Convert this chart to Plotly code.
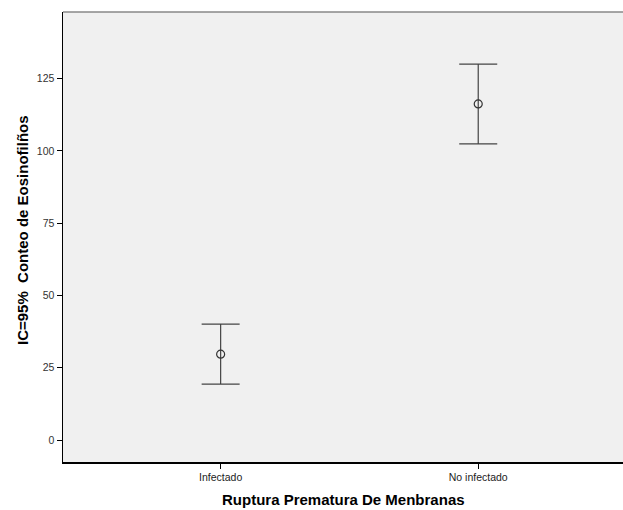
import plotly.graph_objects as go

categories = ["Infectado", "No infectado"]
means = [29.7, 116.2]
upper = [40.1, 130.0]
lower = [19.3, 102.4]
y_ticks = [0, 25, 50, 75, 100, 125]

xpos = list(range(len(categories)))
err_plus = [u - m for u, m in zip(upper, means)]
err_minus = [m - l for m, l in zip(means, lower)]

fig = go.Figure()
fig.add_trace(go.Scatter(
    x=xpos, y=means, mode="markers",
    marker=dict(symbol="circle-open", size=8, color="#333333", line=dict(width=1.2)),
    error_y=dict(type="data", symmetric=False, array=err_plus, arrayminus=err_minus,
                 color="#444444", thickness=1.2, width=19),
    showlegend=False, hoverinfo="skip",
))

fig.update_layout(
    width=623, height=510,
    margin=dict(l=63, r=0, t=12, b=48),
    paper_bgcolor="white", plot_bgcolor="#f0f0f0",
    font=dict(family="Liberation Sans, Arial, sans-serif", size=11, color="#333333"),
    xaxis=dict(range=[-0.612, 1.562], tickvals=xpos, ticktext=categories,
               showgrid=False, zeroline=False, showline=True, linecolor="black", linewidth=1.5,
               ticks="outside", ticklen=5, tickcolor="black", tickfont=dict(size=10.5, color="#222")),
    yaxis=dict(range=[-7.6, 148.0], tickvals=y_ticks, showgrid=False, zeroline=False,
               showline=True, linecolor="black", linewidth=1.5,
               ticks="outside", ticklen=5, tickcolor="black", tickfont=dict(size=10.5, color="#333")),
    shapes=[dict(type="line", xref="paper", yref="paper", x0=0, x1=1, y0=1, y1=1,
                 line=dict(color="#888888", width=1.5))],
    annotations=[
        dict(text="<b>Ruptura Prematura De Menbranas</b>", xref="paper", yref="paper",
             x=0.5, y=0, yshift=-37, xanchor="center", yanchor="middle", showarrow=False,
             font=dict(size=15, color="black")),
        dict(text="<b>IC=95%\u00a0\u00a0Conteo de Eosinofilños</b>", xref="paper", yref="paper",
             x=0, xshift=-41, y=0.5, yshift=7, xanchor="center", yanchor="middle",
             textangle=-90, showarrow=False, font=dict(size=15, color="black")),
    ],
)

fig.write_html(
    "out.html",
    config={"displayModeBar": False, "staticPlot": True},
    post_script="document.body.style.margin='0';document.body.style.overflow='hidden';",
)
